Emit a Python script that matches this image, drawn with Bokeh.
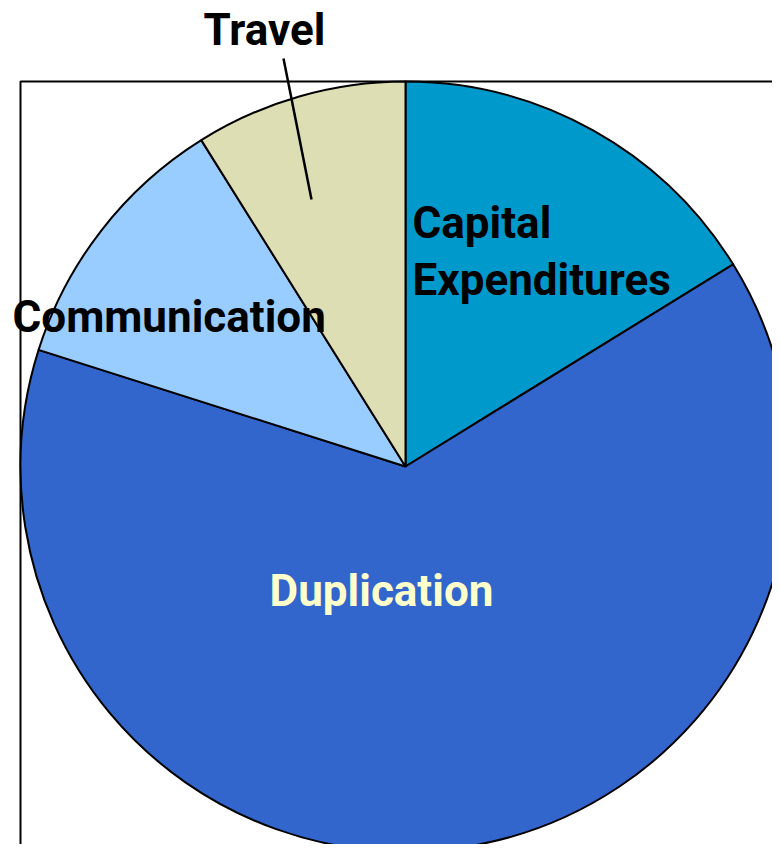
import math
from bokeh.plotting import figure
from bokeh.models import Range1d, ColumnDataSource
from bokeh.core.properties import value
from bokeh.embed import file_html
from bokeh.resources import INLINE

# ---- data ----
categories = ["Capital Expenditures", "Duplication", "Communication", "Travel"]
values = [16.2, 63.7, 11.2, 8.9]
colors = ["#0099CC", "#3366CC", "#99CCFF", "#DEDEB5"]
label_texts = ["Capital\nExpenditures", "Duplication", "Communication", "Travel"]
label_colors = ["#000000", "#FFFFCC", "#000000", "#000000"]

# ---- layout (reference pixel coordinates converted to data) ----
W, H = 772, 844
def Y(sy):
    return H - sy

cx, cy, r = 405, Y(466), 385

total = sum(values)
starts, ends = [], []
a = math.pi / 2
for v in values:
    starts.append(a)
    a = a - v / total * 2 * math.pi
    ends.append(a)

p = figure(width=W, height=H, output_backend="svg", toolbar_location=None,
           x_range=Range1d(0, W), y_range=Range1d(0, H), min_border=0)
p.axis.visible = False
p.grid.visible = False
p.outline_line_color = None
p.background_fill_color = "white"

# plot frame (left and top border visible)
p.quad(left=[20], right=[1200], top=[Y(81)], bottom=[Y(1200)],
       fill_color=None, line_color="black", line_width=2)

src = ColumnDataSource(dict(cat=categories, val=values, color=colors,
                            start=starts, end=ends))
p.wedge(x=cx, y=cy, radius=r, start_angle="start", end_angle="end",
        direction="clock", fill_color="color", line_color="black",
        line_width=2, source=src)

# leader line for Travel
p.line(x=[283, 311], y=[Y(58), Y(199)], line_color="black", line_width=2.5)

# labels (vertical centres)
lx = [412, 381, 12, 203]
ly = [Y(251), Y(590), Y(316), Y(29)]
la = ["left", "center", "left", "left"]
lsrc = ColumnDataSource(dict(x=lx, y=ly, t=label_texts, c=label_colors, a=la))
p.text(x="x", y="y", text="t", text_color="c", text_align="a",
       text_baseline="middle", text_font=value("Roboto"),
       text_font_style="bold", text_font_size="44px", text_line_height=1.1,
       source=lsrc)

open("out.html", "w").write(file_html(p, INLINE))
